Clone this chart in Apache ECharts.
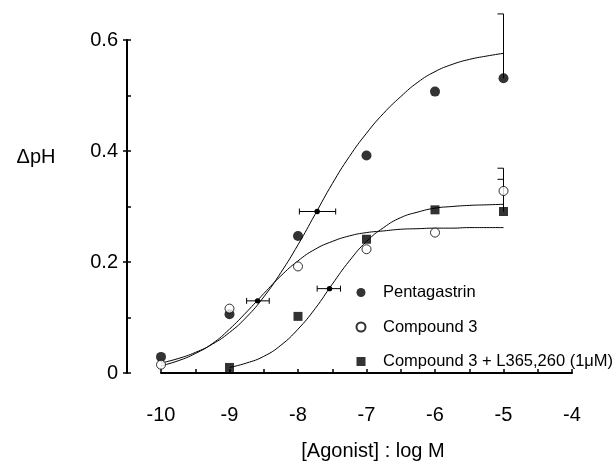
<!DOCTYPE html>
<html>
<head>
<meta charset="utf-8">
<script src="https://cdn.jsdelivr.net/npm/echarts@6/dist/echarts.min.js"></script>
<style>html,body{margin:0;padding:0;background:#fff}#c{width:616px;height:466px}</style>
</head>
<body>
<div id="c"></div>
<script>
// ---- data ----
var xTicks = [-10, -9, -8, -7, -6, -5, -4];
var yTicks = [0, 0.2, 0.4, 0.6];
var seriesNames = ['Pentagastrin', 'Compound 3', 'Compound 3 + L365,260 (1\u03BCM)'];

var pentaPoints = [[-10, 0.029], [-9, 0.106], [-8, 0.247], [-7, 0.392], [-6, 0.507], [-5, 0.531]];
var cmpd3Points = [[-10, 0.015], [-9, 0.116], [-8, 0.192], [-7, 0.223], [-6, 0.253], [-5, 0.328]];
var cmpdLPoints = [[-9, 0.010], [-8, 0.102], [-7, 0.241], [-6, 0.294], [-5, 0.291]];

// fitted curves (every 0.25 log unit)
var curveX = [-10, -9.75, -9.5, -9.25, -9, -8.75, -8.5, -8.25, -8, -7.75, -7.5, -7.25, -7, -6.75, -6.5, -6.25, -6, -5.75, -5.5, -5.25, -5];
var pentaCurve = [0.018, 0.026, 0.037, 0.052, 0.073, 0.101, 0.137, 0.181, 0.231, 0.286, 0.341, 0.390, 0.432, 0.468, 0.498, 0.524, 0.543, 0.556, 0.565, 0.571, 0.576];
var cmpd3Curve = [0.013, 0.022, 0.035, 0.053, 0.079, 0.110, 0.143, 0.175, 0.202, 0.223, 0.237, 0.247, 0.253, 0.256, 0.259, 0.260, 0.261, 0.261, 0.262, 0.262, 0.262];
var cmpdLCurveX = [-9, -8.75, -8.5, -8.25, -8, -7.75, -7.5, -7.25, -7, -6.75, -6.5, -6.25, -6, -5.75, -5.5, -5.25, -5];
var cmpdLCurve = [0.010, 0.018, 0.030, 0.050, 0.079, 0.116, 0.160, 0.202, 0.237, 0.262, 0.280, 0.290, 0.297, 0.300, 0.302, 0.303, 0.304];

// EC50 points with horizontal error bars: [x, y, xLow, xHigh]
var ec50Bars = [[-7.72, 0.291, -7.98, -7.45], [-8.59, 0.130, -8.75, -8.42], [-7.54, 0.152, -7.72, -7.38]];
// upper error bars at the last dose: [x, yLow, yHigh]
var upperBars = [[-5, 0.531, 0.647], [-5, 0.328, 0.369], [-5, 0.291, 0.349]];

function pairs(xs, ys) { return xs.map(function (x, i) { return [x, ys[i]]; }); }

var FONT = 'Liberation Sans, Arial, Helvetica, sans-serif';
var chart = echarts.init(document.getElementById('c'), null, { renderer: 'canvas' });

var axisLineStyle = { color: '#000', width: 2 };

chart.setOption({
  animation: false,
  backgroundColor: '#fff',
  grid: { left: 161, right: 44, top: 40, bottom: 88, containLabel: false },
  xAxis: {
    type: 'value', min: -10, max: -4, interval: 0.5, offset: 15,
    axisLine: { show: true, lineStyle: axisLineStyle },
    axisTick: { show: true, inside: true, length: 4, lineStyle: { color: '#000', width: 1.5 } },
    splitLine: { show: false },
    axisLabel: {
      color: '#000', fontFamily: FONT, fontSize: 20, margin: 17,
      formatter: function (v) { return xTicks.indexOf(v) >= 0 ? String(v) : ''; }
    },
    name: '[Agonist] : log M', nameLocation: 'middle', nameGap: 53,
    nameTextStyle: { color: '#000', fontFamily: FONT, fontSize: 20, padding: [0, 0, 0, 13] }
  },
  yAxis: [{
    type: 'value', min: 0, max: 0.6, interval: 0.2, offset: 34,
    axisLine: { show: true, lineStyle: axisLineStyle },
    axisTick: { show: true, inside: false, length: 4, lineStyle: { color: '#000', width: 1.5 } },
    splitLine: { show: false },
    axisLabel: {
      color: '#000', fontFamily: FONT, fontSize: 20, margin: 9,
      formatter: function (v) { return yTicks.indexOf(v) >= 0 ? (v === 0 ? '0' : v.toFixed(1)) : ''; }
    }
  }, {
    type: 'value', min: 0, max: 0.6, interval: 0.1, offset: 34, position: 'left',
    axisLine: { show: false },
    axisTick: { show: true, inside: true, length: 4, lineStyle: { color: '#000', width: 1.5 } },
    splitLine: { show: false },
    axisLabel: { show: false }
  }],
  legend: {
    data: [
      { name: seriesNames[0], icon: 'circle' },
      { name: seriesNames[1], icon: 'circle' },
      { name: seriesNames[2], icon: 'rect' }
    ],
    orient: 'vertical', left: 355.5, top: 284, padding: 0,
    itemWidth: 9, itemHeight: 9, itemGap: 17.5,
    textStyle: { color: '#000', fontFamily: FONT, fontSize: 16.5, lineHeight: 17, padding: [0, 0, 0, 12.5] },
    selectedMode: false
  },
  graphic: [{
    type: 'text', x: 36, y: 157,
    style: { text: '\u0394pH', fill: '#000', font: '20px ' + FONT, textAlign: 'center', textVerticalAlign: 'middle' }
  }],
  series: [
    { type: 'line', name: 'curve1', data: pairs(curveX, pentaCurve), smooth: true,
      showSymbol: false, symbol: 'none', lineStyle: { color: '#000', width: 1 }, z: 2, silent: true },
    { type: 'line', name: 'curve2', data: pairs(curveX, cmpd3Curve), smooth: true,
      showSymbol: false, symbol: 'none', lineStyle: { color: '#000', width: 1 }, z: 2, silent: true },
    { type: 'line', name: 'curve3', data: pairs(cmpdLCurveX, cmpdLCurve), smooth: true,
      showSymbol: false, symbol: 'none', lineStyle: { color: '#000', width: 1 }, z: 2, silent: true },
    {
      type: 'custom', name: 'errx', z: 3, clip: false, silent: true,
      data: ec50Bars,
      renderItem: function (params, api) {
        var y = api.value(1);
        var c = api.coord([api.value(0), y]);
        var l = api.coord([api.value(2), y]);
        var r = api.coord([api.value(3), y]);
        var st = { stroke: '#000', lineWidth: 1 };
        return { type: 'group', children: [
          { type: 'line', shape: { x1: l[0], y1: l[1], x2: r[0], y2: r[1] }, style: st },
          { type: 'line', shape: { x1: l[0], y1: l[1] - 3, x2: l[0], y2: l[1] + 3 }, style: st },
          { type: 'line', shape: { x1: r[0], y1: r[1] - 3, x2: r[0], y2: r[1] + 3 }, style: st },
          { type: 'circle', shape: { cx: c[0], cy: c[1], r: 2.7 }, style: { fill: '#000' } }
        ] };
      }
    },
    {
      type: 'custom', name: 'erry', z: 3, clip: false, silent: true,
      data: upperBars,
      renderItem: function (params, api) {
        var x = api.value(0);
        var lo = api.coord([x, api.value(1)]);
        var hi = api.coord([x, api.value(2)]);
        var st = { stroke: '#000', lineWidth: 1 };
        return { type: 'group', children: [
          { type: 'line', shape: { x1: lo[0], y1: lo[1], x2: hi[0], y2: hi[1] }, style: st },
          { type: 'line', shape: { x1: hi[0] - 6, y1: hi[1], x2: hi[0], y2: hi[1] }, style: st }
        ] };
      }
    },
    { type: 'scatter', name: seriesNames[0], data: pentaPoints, symbol: 'circle', symbolSize: 10,
      itemStyle: { color: '#000' }, z: 5 },
    { type: 'scatter', name: seriesNames[1], data: cmpd3Points, symbol: 'circle', symbolSize: 9,
      itemStyle: { color: '#fff', borderColor: '#000', borderWidth: 1 }, z: 5 },
    { type: 'scatter', name: seriesNames[2], data: cmpdLPoints, symbol: 'rect', symbolSize: 9,
      itemStyle: { color: '#000' }, z: 5 }
  ]
});
</script>
</body>
</html>
